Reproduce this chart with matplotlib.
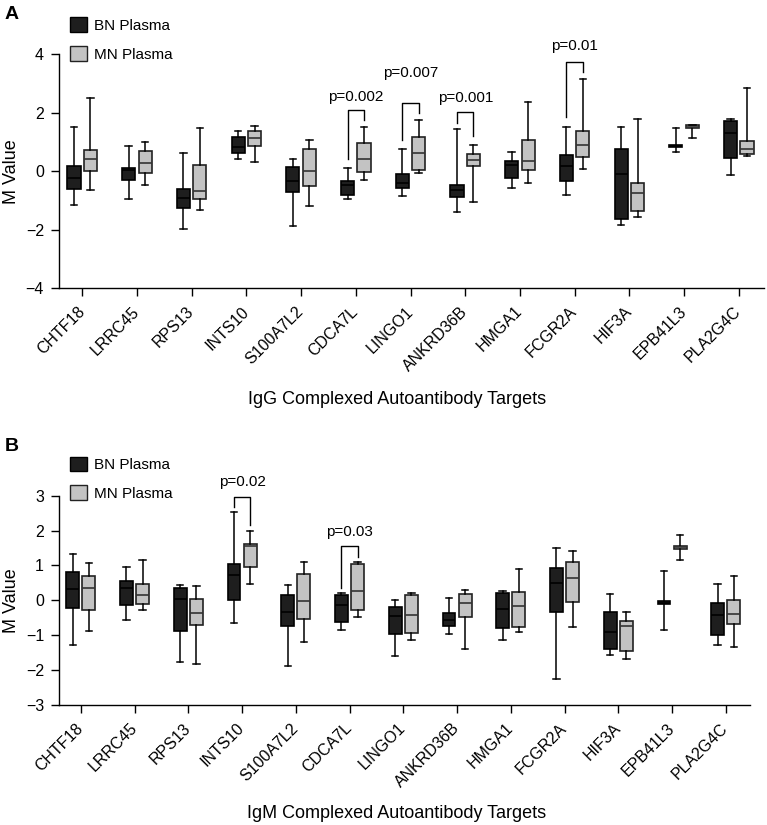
import numpy as np
import matplotlib
matplotlib.use('Agg')
import matplotlib.pyplot as plt
from matplotlib.patches import Patch

plt.rcParams['font.family'] = ['Liberation Sans', 'DejaVu Sans']

genes = ['CHTF18', 'LRRC45', 'RPS13', 'INTS10', 'S100A7L2', 'CDCA7L', 'LINGO1',
         'ANKRD36B', 'HMGA1', 'FCGR2A', 'HIF3A', 'EPB41L3', 'PLA2G4C']

# each row: whisker low, q1, median, q3, whisker high
igg_bn = [[-1.14, -0.62, -0.24, 0.17, 1.50],
          [-0.95, -0.29, 0.03, 0.11, 0.85],
          [-1.97, -1.26, -0.92, -0.60, 0.61],
          [0.43, 0.61, 0.83, 1.15, 1.38],
          [-1.86, -0.71, -0.35, 0.14, 0.43],
          [-0.96, -0.80, -0.47, -0.32, 0.10],
          [-0.85, -0.57, -0.42, -0.11, 0.74],
          [-1.39, -0.87, -0.66, -0.47, 1.44],
          [-0.58, -0.22, 0.21, 0.33, 0.66],
          [-0.83, -0.34, 0.17, 0.56, 1.52],
          [-1.83, -1.63, -0.09, 0.75, 1.52],
          [0.65, 0.81, 0.85, 0.89, 1.48],
          [-0.13, 0.45, 1.29, 1.72, 1.79]]
igg_mn = [[-0.65, -0.01, 0.43, 0.72, 2.49],
          [-0.48, -0.08, 0.28, 0.68, 0.98],
          [-1.34, -0.95, -0.67, 0.22, 1.48],
          [0.30, 0.86, 1.12, 1.36, 1.53],
          [-1.18, -0.51, -0.01, 0.74, 1.08],
          [-0.30, -0.02, 0.42, 0.97, 1.52],
          [-0.05, 0.03, 0.63, 1.17, 1.75],
          [-1.04, 0.17, 0.38, 0.58, 0.90],
          [-0.40, 0.05, 0.34, 1.05, 2.35],
          [0.07, 0.48, 0.90, 1.37, 3.16],
          [-1.56, -1.35, -0.75, -0.40, 1.77],
          [1.13, 1.48, 1.52, 1.56, 1.56],
          [0.51, 0.58, 0.74, 1.02, 2.85]]
igm_bn = [[-1.27, -0.22, 0.31, 0.81, 1.32],
          [-0.57, -0.13, 0.35, 0.56, 0.96],
          [-1.76, -0.88, 0.04, 0.35, 0.45],
          [-0.64, 0.01, 0.73, 1.05, 2.52],
          [-1.87, -0.73, -0.34, 0.16, 0.44],
          [-0.85, -0.62, -0.13, 0.16, 0.22],
          [-1.60, -0.97, -0.45, -0.19, 0.00],
          [-0.97, -0.75, -0.57, -0.37, 0.08],
          [-1.15, -0.80, -0.26, 0.21, 0.27],
          [-2.25, -0.34, 0.51, 0.92, 1.49],
          [-1.58, -1.40, -0.91, -0.33, 0.18],
          [-0.85, -0.11, -0.07, -0.03, 0.85],
          [-1.28, -0.99, -0.42, -0.09, 0.47]]
igm_mn = [[-0.87, -0.29, 0.36, 0.70, 1.08],
          [-0.29, -0.12, 0.15, 0.46, 1.15],
          [-1.84, -0.71, -0.36, 0.05, 0.41],
          [0.46, 0.96, 1.56, 1.62, 1.99],
          [-1.19, -0.53, -0.01, 0.75, 1.09],
          [-0.48, -0.29, 0.26, 1.03, 1.11],
          [-1.14, -0.95, -0.42, 0.16, 0.20],
          [-1.40, -0.48, -0.08, 0.19, 0.30],
          [-0.92, -0.77, -0.17, 0.24, 0.89],
          [-0.77, -0.04, 0.65, 1.09, 1.41],
          [-1.69, -1.46, -0.73, -0.59, -0.34],
          [1.15, 1.48, 1.52, 1.56, 1.88],
          [-1.34, -0.69, -0.40, 0.00, 0.70]]

# significance brackets: gene index, label, bracket top, left leg end, right leg end, label y
igg_sig = [(5, 'p=0.002', 2.09, 0.41, 1.75, 2.54),
           (6, 'p=0.007', 2.32, 1.06, 2.00, 3.36),
           (7, 'p=0.001', 2.01, 1.65, 1.21, 2.49),
           (9, 'p=0.01', 3.74, 1.84, 3.40, 4.26)]
igm_sig = [(3, 'p=0.02', 2.97, 2.68, 2.16, 3.38),
           (5, 'p=0.03', 1.56, 0.34, 1.25, 1.97)]

bn_col = '#1e1e1e'
mn_col = '#c3c3c3'
off = 0.15


def stats(rows):
    return [dict(whislo=r[0], q1=r[1], med=r[2], q3=r[3], whishi=r[4], fliers=[]) for r in rows]


def panel(ax, bn, mn, sig, ylim, yticks, xlabel, xlim):
    x = np.arange(len(genes))
    for data, pos, fc, ec, mc in [(bn, x - off, bn_col, 'black', 'black'),
                                  (mn, x + off, mn_col, '#222222', '#333333')]:
        ax.bxp(stats(data), positions=pos, widths=0.24, patch_artist=True,
               showfliers=False, capwidths=0.12,
               boxprops=dict(facecolor=fc, edgecolor=ec, linewidth=1.2),
               medianprops=dict(color=mc, linewidth=1.2),
               whiskerprops=dict(color='black', linewidth=1.1),
               capprops=dict(color='black', linewidth=1.1))
    for i, lab, top, l, r, ty in sig:
        ax.plot([i - off, i - off, i + off, i + off], [l, top, top, r],
                color='black', lw=1.0, clip_on=False)
        ax.text(i, ty, lab, ha='center', va='center', fontsize=11, clip_on=False)
    ax.set_xlim(*xlim)
    ax.set_ylim(*ylim)
    ax.set_yticks(yticks)
    ax.set_yticklabels([str(t).replace('-', '\u2212') for t in yticks])
    ax.set_xticks(x)
    ax.set_xticklabels(genes, rotation=45, ha='right', va='center',
                       rotation_mode='anchor', fontsize=11.5)
    ax.tick_params(axis='x', length=6, width=1, pad=9)
    ax.tick_params(axis='y', length=6, width=1, pad=5, labelsize=11.5)
    for s in ['top', 'right']:
        ax.spines[s].set_visible(False)
    for s in ['left', 'bottom']:
        ax.spines[s].set_linewidth(1.0)
    ax.set_ylabel('M Value', fontsize=13, va='center')
    ax.set_xlabel(xlabel, fontsize=13, va='center')


fig = plt.figure(figsize=(7.67, 8.25), dpi=100)
ax1 = fig.add_axes([0.0773, 0.6506, 0.9188, 0.2839])
ax2 = fig.add_axes([0.0773, 0.1455, 0.9005, 0.2537])

panel(ax1, igg_bn, igg_mn, igg_sig, (-4, 4), [-4, -2, 0, 2, 4],
      'IgG Complexed Autoantibody Targets', (-0.42, 12.46))
panel(ax2, igm_bn, igm_mn, igm_sig, (-3, 3), [-3, -2, -1, 0, 1, 2, 3],
      'IgM Complexed Autoantibody Targets', (-0.40, 12.45))

ax1.yaxis.set_label_coords(-(59.3 - 11) / 705, 0.5)
ax2.yaxis.set_label_coords(-(59.3 - 11) / 691, 0.5)
ax1.xaxis.set_label_coords((397 - 59.3) / 705, -(399 - 288.3) / 234)
ax2.xaxis.set_label_coords((397 - 59.3) / 691, -(813 - 705) / 209)

handles = [Patch(facecolor=bn_col, edgecolor='black', label='BN Plasma'),
           Patch(facecolor=mn_col, edgecolor='#222222', label='MN Plasma')]
for ax, top in [(ax1, 1 - 17.5 / 825), (ax2, 1 - 456.5 / 825)]:
    ax.legend(handles=handles, loc='upper left', bbox_to_anchor=(70 / 767, top),
              bbox_transform=fig.transFigure, frameon=False, fontsize=11,
              handlelength=1.1, handleheight=1.1, handletextpad=0.5,
              labelspacing=0.85, borderpad=0, borderaxespad=0)

fig.text(5 / 767, 1 - 6 / 825, 'A', fontsize=14, fontweight='bold', ha='left', va='top')
fig.text(5 / 767, 1 - 438 / 825, 'B', fontsize=14, fontweight='bold', ha='left', va='top')

fig.savefig('out.png', dpi=100)
